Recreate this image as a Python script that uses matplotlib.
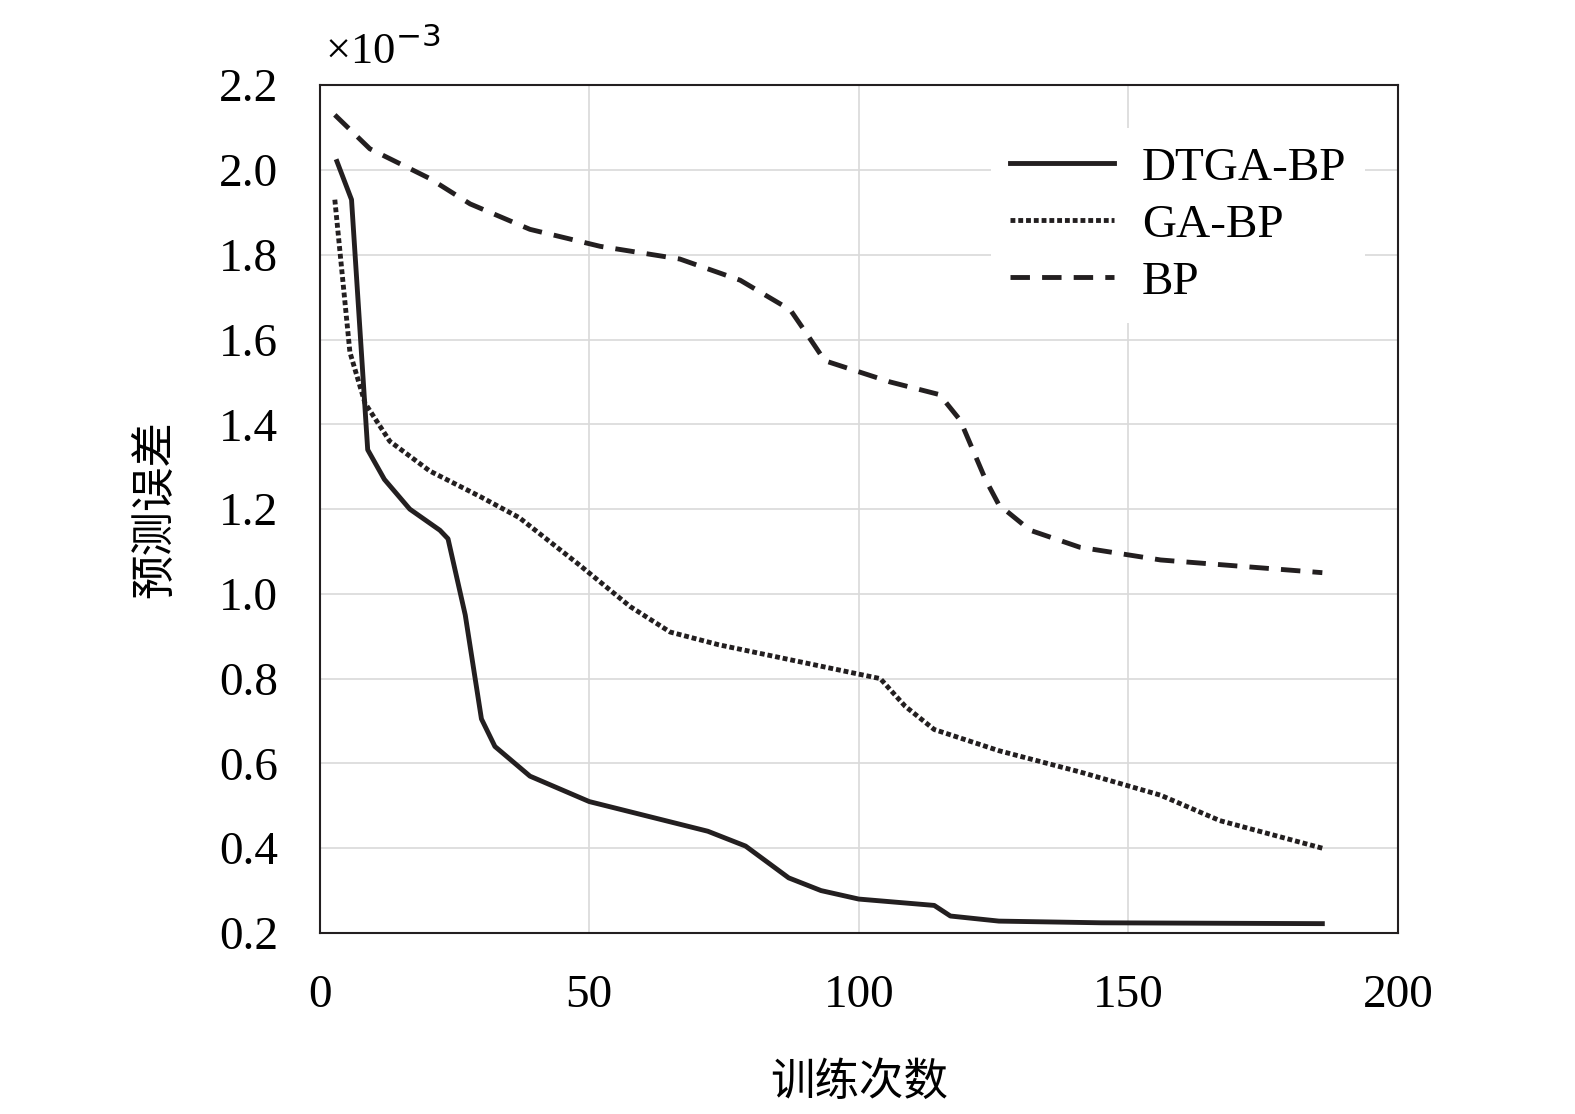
import matplotlib
matplotlib.use("Agg")
import matplotlib.pyplot as plt

dt_x = [3.2,5.9,8.9,12,16.7,22.3,23.8,27,30,32.5,39,50,61,72,79,87,93,100,114,117,126,145,186]
dt_y = [2.02,1.93,1.34,1.27,1.2,1.15,1.13,0.95,0.705,0.64,0.57,0.51,0.475,0.44,0.405,0.33,0.3,0.28,0.265,0.24,0.228,0.224,0.222]
ga_x = [2.8,5.6,8.4,13,20.4,29.7,37,48,57.6,65,74,89,104,108.6,114,126,141,156,167,186]
ga_y = [1.93,1.57,1.45,1.36,1.29,1.23,1.18,1.07,0.97,0.91,0.88,0.84,0.8,0.735,0.68,0.63,0.58,0.525,0.465,0.4]
bp_x = [2.8,9.3,20.4,27.9,39,52,66.8,78,87.3,90,93.7,105.8,115,118.8,123.5,126,131.8,141,156,186]
bp_y = [2.13,2.05,1.98,1.92,1.86,1.82,1.79,1.74,1.67,1.62,1.55,1.5,1.47,1.41,1.27,1.21,1.15,1.11,1.08,1.05]

plt.rcParams['font.family'] = ['Liberation Serif', 'Noto Sans CJK SC']
fig = plt.figure(figsize=(15.75, 11.14), dpi=100)
ax = fig.add_axes([0.203, 0.1625, 0.6845, 0.761])
c = '#231f20'
ax.plot(dt_x, dt_y, '-', color=c, lw=3.5, label='DTGA-BP')
ax.plot(ga_x, ga_y, linestyle=(0, (1, 0.6)), color=c, lw=3.5, label='GA-BP')
ax.plot(bp_x, bp_y, linestyle=(0, (4, 2.5)), color=c, lw=3.5, label='BP')
ax.set_xlim(0, 200)
ax.set_ylim(0.2, 2.2)
ax.set_xticks([0, 50, 100, 150, 200])
ax.set_yticks([0.2,0.4,0.6,0.8,1.0,1.2,1.4,1.6,1.8,2.0,2.2])
ax.set_yticklabels(['0.2','0.4','0.6','0.8','1.0','1.2','1.4','1.6','1.8','2.0','2.2'])
ax.grid(True, color='#d9d9d9', lw=1.2)
ax.set_axisbelow(True)
ax.tick_params(labelsize=34, length=0)
ax.tick_params(axis='x', pad=30)
ax.tick_params(axis='y', pad=30)
for s in ax.spines.values():
    s.set_linewidth(1.5); s.set_color(c)
ax.set_xlabel('训练次数', fontsize=32, family=['Noto Sans CJK SC'], labelpad=30)
ax.set_ylabel('预测误差', fontsize=32, family=['Noto Sans CJK SC'], labelpad=30)
ax.text(0.005, 1.025, '×10$^{-3}$', transform=ax.transAxes, fontsize=32)
leg = ax.legend(loc='upper right', bbox_to_anchor=(0.97, 0.95), fontsize=34, frameon=True,
                handlelength=2.2, borderaxespad=0, labelspacing=0.3, handletextpad=0.6)
leg.get_frame().set_edgecolor('none')
leg.get_frame().set_facecolor('white')
leg.get_frame().set_alpha(1)
fig.savefig('out.png', dpi=100)
